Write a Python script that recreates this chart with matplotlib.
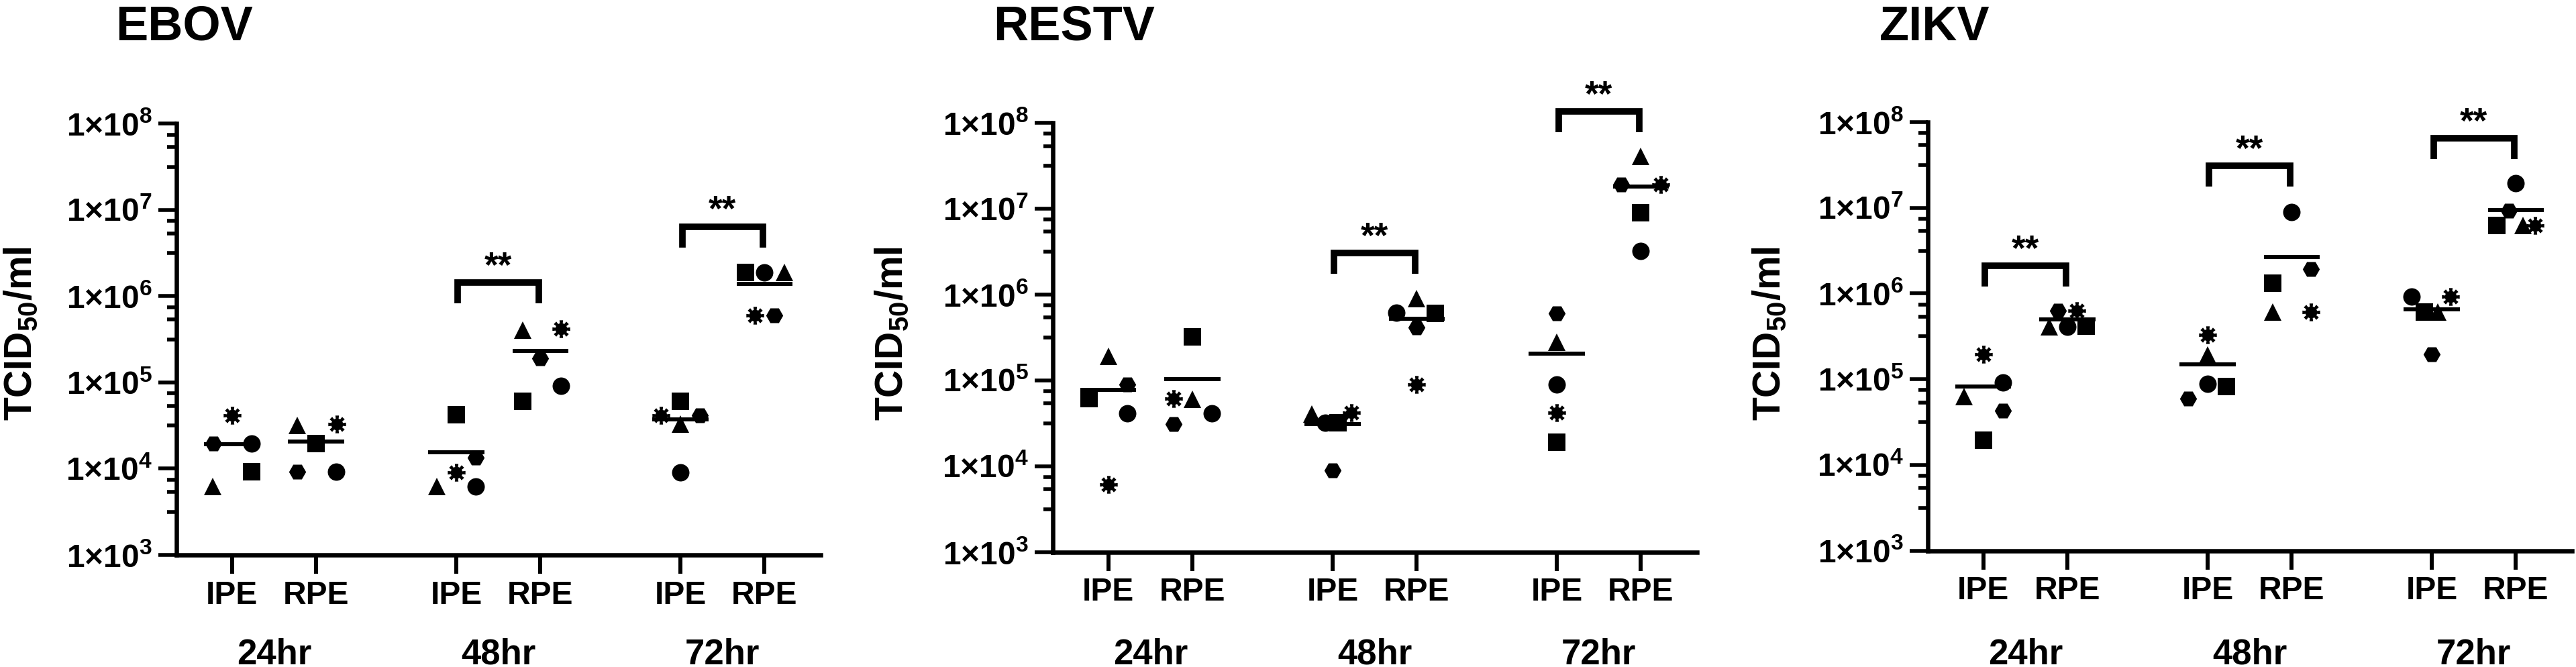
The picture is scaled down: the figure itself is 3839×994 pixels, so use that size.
import numpy as np
import matplotlib
matplotlib.use("Agg")
import matplotlib.pyplot as plt
from matplotlib.path import Path
from matplotlib.markers import MarkerStyle
from matplotlib.ticker import FixedLocator, FuncFormatter, NullFormatter
import matplotlib.transforms as mtransforms

plt.rcParams['font.family'] = ['Liberation Sans', 'DejaVu Sans']
plt.rcParams['mathtext.fontset'] = 'custom'
plt.rcParams['mathtext.rm'] = 'Liberation Sans'
plt.rcParams['mathtext.bf'] = 'Liberation Sans:bold'
plt.rcParams['mathtext.it'] = 'Liberation Sans:italic'

# ---------------- data (TCID50/ml) ----------------
viruses = ["EBOV", "RESTV", "ZIKV"]
timepoints = ["24hr", "48hr", "72hr"]
cell_types = ["IPE", "RPE"]
replicates = ["circle", "square", "triangle", "hexagon", "asterisk"]

# rows: 24hr, 48hr, 72hr ; columns: circle, square, triangle, hexagon, asterisk
EBOV_IPE = [[1.94e4, 9.2e3, 6.2e3, 1.94e4, 4.16e4],
            [6.2e3, 4.23e4, 6.2e3, 1.35e4, 9.0e3],
            [9.0e3, 6.1e4, 3.3e4, 4.16e4, 4.16e4]]
EBOV_RPE = [[9.2e3, 1.97e4, 3.2e4, 9.2e3, 3.3e4],
            [9.06e4, 6.1e4, 4.05e5, 1.89e5, 4.2e5],
            [1.9e6, 1.9e6, 1.9e6, 6.0e5, 6.0e5]]
RESTV_IPE = [[4.14e4, 6.1e4, 1.9e5, 9.0e4, 6.1e3],
             [3.22e4, 3.22e4, 4.07e4, 8.9e3, 4.17e4],
             [8.9e4, 1.91e4, 2.8e5, 6.0e5, 4.17e4]]
RESTV_RPE = [[4.14e4, 3.22e5, 6.0e4, 3.1e4, 6.1e4],
             [6.1e5, 6.0e5, 8.9e5, 4.14e5, 8.9e4],
             [3.22e6, 8.9e6, 4.07e7, 1.91e7, 1.91e7]]
ZIKV_IPE = [[9.2e4, 1.95e4, 6.3e4, 4.27e4, 1.96e5],
            [8.77e4, 8.17e4, 1.92e5, 5.93e4, 3.27e5],
            [9.16e5, 6.1e5, 6.1e5, 1.95e5, 9.16e5]]
ZIKV_RPE = [[4.12e5, 4.17e5, 4.12e5, 6.34e5, 6.34e5],
            [8.9e6, 1.33e6, 6.1e5, 1.93e6, 6.1e5],
            [1.95e7, 6.2e6, 6.2e6, 9.2e6, 6.2e6]]

# significance brackets: bracket height per timepoint (None = no bracket)
SIG_EBOV = [None, 1.43e6, 6.4e6]
SIG_RESTV = [None, 3.03e6, 1.35e8]
SIG_ZIKV = [2.1e6, 3.09e7, 6.5e7]
SIG_LABEL = "**"

# ---------------- layout (scatter dodge offsets, in category units) ----------------
EBOV_IPE_DX = [[0.235, 0.235, -0.228, -0.22, 0], [0.23, 0, -0.228, 0.23, 0], [0, 0, 0, 0.227, -0.232]]
EBOV_RPE_DX = [[0.24, 0, -0.22, -0.22, 0.248], [0.248, -0.21, -0.21, 0, 0.248], [0, -0.227, 0.235, 0.12, -0.115]]
RESTV_IPE_DX = [[0.227, -0.23, 0, 0.227, 0], [-0.09, 0.068, -0.243, 0, 0.227], [0, 0, 0, 0, 0]]
RESTV_RPE_DX = [[0.23, 0, 0, -0.227, -0.227], [-0.24, 0.22, 0, 0, 0], [0, 0, 0, -0.232, 0.235]]
ZIKV_IPE_DX = [[0.235, 0, -0.227, 0.235, 0], [0, 0.227, 0, -0.227, 0], [-0.24, -0.085, 0.067, 0, 0.221]]
ZIKV_RPE_DX = [[0, 0.227, -0.219, -0.116, 0.112], [0, -0.227, -0.227, 0.227, 0.227], [0, -0.227, 0.083, -0.085, 0.229]]

W, H = 3839, 994
fig = plt.figure(figsize=(W / 100, H / 100), dpi=100)


def rect(left, top, right, bottom):
    return [left / W, 1 - bottom / H, (right - left) / W, (bottom - top) / H]


def gear_path(n=8, r_in=0.66, w_out=0.2, w_in=0.15):
    verts = []
    for k in range(n):
        th = np.pi / 2 + k * 2 * np.pi / n
        verts.append((np.cos(th - w_out), np.sin(th - w_out)))
        verts.append((np.cos(th + w_out), np.sin(th + w_out)))
        th2 = th + np.pi / n
        verts.append((r_in * np.cos(th2 - w_in), r_in * np.sin(th2 - w_in)))
        verts.append((r_in * np.cos(th2 + w_in), r_in * np.sin(th2 + w_in)))
    verts.append(verts[0])
    codes = [Path.MOVETO] + [Path.LINETO] * (len(verts) - 2) + [Path.CLOSEPOLY]
    return Path(verts, codes)


MARKERS = {"circle": ("o", 18.7), "square": ("s", 19.0), "triangle": ("^", 18.7),
           "hexagon": ("H", 18.3), "asterisk": (MarkerStyle(gear_path()), 19.0)}

panels = [
    ("EBOV", EBOV_IPE, EBOV_RPE, EBOV_IPE_DX, EBOV_RPE_DX, SIG_EBOV, (263, 184.3, 1223, 827), 172, 32),
    ("RESTV", RESTV_IPE, RESTV_RPE, RESTV_IPE_DX, RESTV_RPE_DX, SIG_RESTV, (1569, 183, 2529, 822.7), 1480, 1330),
    ("ZIKV", ZIKV_IPE, ZIKV_RPE, ZIKV_IPE_DX, ZIKV_RPE_DX, SIG_ZIKV, (2873, 182, 3833, 820.5), 2801, 2638),
]

GROUP_STEP = 8 / 3.0
minor_fracs = [0.5, 0.73, 0.872]
minor_ticks = [10 ** (k + f) for k in range(3, 8) for f in minor_fracs]
LW_AX = 4.7

for name, ipe, rpe, ipe_dx, rpe_dx, sig, box, title_x, ylab_x in panels:
    ax = fig.add_axes(rect(*box))
    ax.set_yscale('log')
    ax.set_ylim(1e3, 1e8)
    ax.set_xlim(-0.66, 7.0)
    for s in ['top', 'right']:
        ax.spines[s].set_visible(False)
    for s in ['left', 'bottom']:
        ax.spines[s].set_linewidth(LW_AX)
    ax.yaxis.set_major_locator(FixedLocator([10.0 ** k for k in range(3, 9)]))
    ax.yaxis.set_major_formatter(FuncFormatter(
        lambda v, p: r"$\mathbf{1×10^{%d}}$" % int(round(np.log10(v)))))
    ax.yaxis.set_minor_locator(FixedLocator(minor_ticks))
    ax.yaxis.set_minor_formatter(NullFormatter())
    ax.tick_params(axis='y', which='major', length=19.5, width=4, pad=6.5,
                   labelsize=34.5, direction='out')
    ax.tick_params(axis='y', which='minor', length=10, width=4, direction='out')

    xpos = []
    xlabels = []
    for g in range(3):
        for c in range(2):
            xpos.append(g * GROUP_STEP + c)
            xlabels.append(cell_types[c])
    ax.set_xticks(xpos)
    ax.set_xticklabels(xlabels, fontsize=34.5, fontweight='bold')
    ax.tick_params(axis='x', length=20, width=4.3, pad=7, direction='out')

    for g in range(3):
        for c, (vals, dxs) in enumerate([(ipe[g], ipe_dx[g]), (rpe[g], rpe_dx[g])]):
            x0 = g * GROUP_STEP + c
            for r, rep in enumerate(replicates):
                mk, ms = MARKERS[rep]
                ax.plot([x0 + dxs[r]], [vals[r]], linestyle='none', marker=mk,
                        markersize=ms, color='black', markeredgewidth=0,
                        zorder=3, clip_on=False)
            m = np.mean(vals)
            ax.plot([x0 - 0.333, x0 + 0.333], [m, m], color='black', lw=4.3,
                    solid_capstyle='butt', zorder=4)
        if sig[g] is not None:
            top = sig[g]
            leg = top / 10 ** 0.24
            xa = g * GROUP_STEP + 0.02
            xb = g * GROUP_STEP + 1 - 0.02
            ax.plot([xa, xa, xb, xb], [leg, top, top, leg], color='black', lw=7,
                    solid_joinstyle='miter', solid_capstyle='butt', clip_on=False, zorder=5)
            ax.annotate(SIG_LABEL, xy=(g * GROUP_STEP + 0.5, top * 10 ** 0.30),
                        xytext=(0, -0.57 * 38), textcoords='offset points',
                        ha='center', va='baseline', fontsize=38, fontweight='bold',
                        annotation_clip=False)

    trans = mtransforms.blended_transform_factory(ax.transData, fig.transFigure)
    for g, tp in enumerate(timepoints):
        ax.text(g * GROUP_STEP + 0.5, 1 - 990 / H, tp, transform=trans, ha='center',
                va='baseline', fontsize=38, fontweight='bold')

    fig.text(title_x / W, 1 - 60 / H, name, ha='left', va='baseline', fontsize=52,
             fontweight='bold')
    fig.text(ylab_x / W, 1 - 497 / H, r"$\mathbf{TCID_{50}/ml}$", rotation=90,
             ha='center', va='center', fontsize=41)

fig.savefig("out.png", dpi=100)
